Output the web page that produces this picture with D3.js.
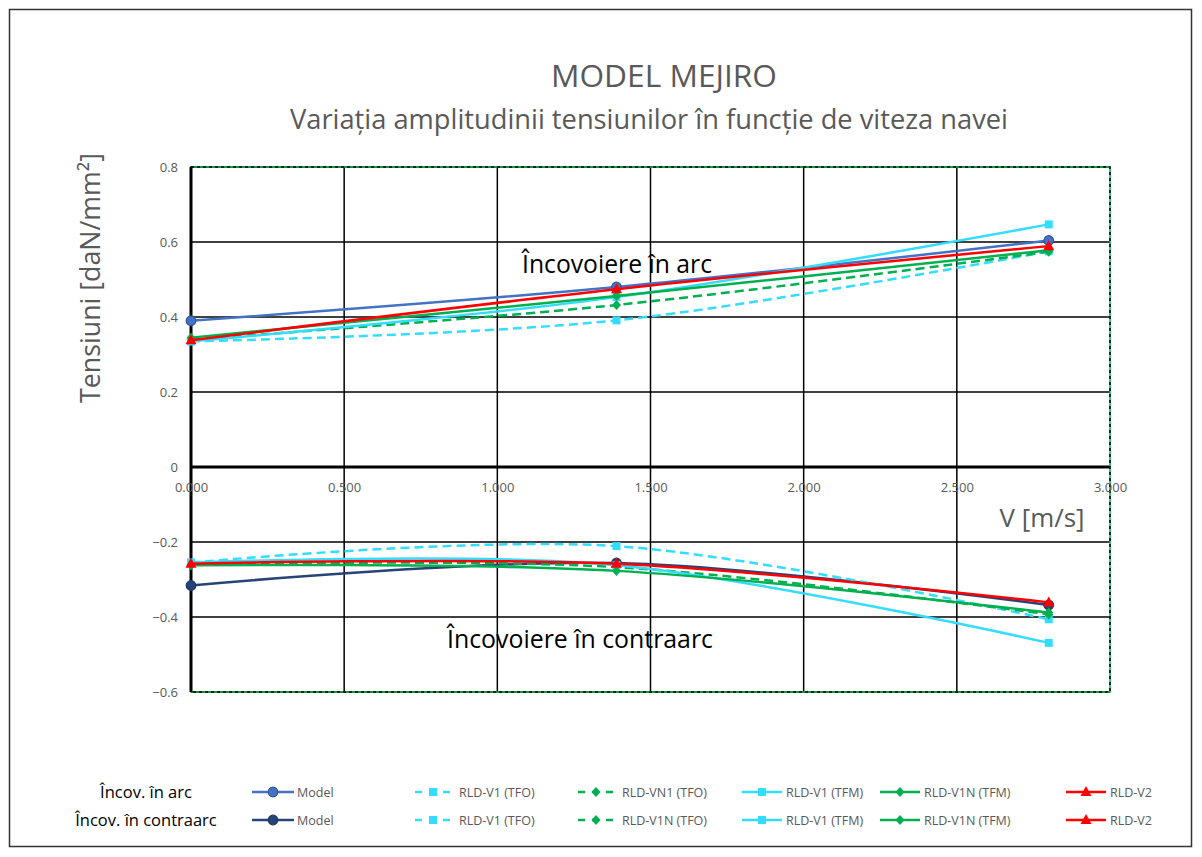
<!DOCTYPE html>
<html>
<head>
<meta charset="utf-8">
<script src="https://cdn.jsdelivr.net/npm/d3@7"></script>
<style>
  html, body { margin: 0; padding: 0; background: #fff; }
  svg { display: block; }
  text { font-family: "Open Sans", "Noto Sans", sans-serif; }
</style>
</head>
<body>
<svg id="chart" width="1202" height="857"></svg>
<script>
// Ship speed [m/s]
const speeds = [0, 1.389, 2.8];

// Stress amplitude, hogging ("în arc")
const arcModel  = [0.390, 0.480, 0.604];
const arcV1Tfo  = [0.335, 0.391, 0.575];
const arcVn1Tfo = [0.340, 0.432, 0.574];
const arcV1Tfm  = [0.335, 0.453, 0.647];
const arcV1nTfm = [0.345, 0.456, 0.578];
const arcV2     = [0.338, 0.474, 0.589];

// Stress amplitude, sagging ("în contraarc")
const conModel  = [-0.316, -0.256, -0.368];
const conV1Tfo  = [-0.255, -0.211, -0.406];
const conVn1Tfo = [-0.260, -0.267, -0.393];
const conV1Tfm  = [-0.255, -0.262, -0.469];
const conV1nTfm = [-0.262, -0.277, -0.388];
const conV2     = [-0.258, -0.258, -0.361];

const xTicks = [0, 0.5, 1, 1.5, 2, 2.5, 3];
const yTicks = [0.8, 0.6, 0.4, 0.2, 0, -0.2, -0.4, -0.6];

const arcNames = ["Model", "RLD-V1 (TFO)", "RLD-VN1 (TFO)", "RLD-V1 (TFM)", "RLD-V1N (TFM)", "RLD-V2"];
const conNames = ["Model", "RLD-V1 (TFO)", "RLD-V1N (TFO)", "RLD-V1 (TFM)", "RLD-V1N (TFM)", "RLD-V2"];

const CYAN = "#33DDFF", GREEN = "#00B050", RED = "#FF0000";
const styles = [
  { dash: null,  marker: "circle" },
  { dash: "9,5", marker: "square",   color: CYAN },
  { dash: "9,5", marker: "diamond",  color: GREEN },
  { dash: null,  marker: "square",   color: CYAN },
  { dash: null,  marker: "diamond",  color: GREEN },
  { dash: null,  marker: "triangle", color: RED }
];

const arcSeries = [arcModel, arcV1Tfo, arcVn1Tfo, arcV1Tfm, arcV1nTfm, arcV2];
const conSeries = [conModel, conV1Tfo, conVn1Tfo, conV1Tfm, conV1nTfm, conV2];

const svg = d3.select("#chart");
const grey = "#595959";

// outer frame
svg.append("rect").attr("x", 9.5).attr("y", 9.5).attr("width", 1182).attr("height", 837)
  .attr("fill", "#fff").attr("stroke", "#333").attr("stroke-width", 1.5);

const x = d3.scaleLinear().domain([0, 3]).range([191, 1110]);
const y = d3.scaleLinear().domain([-0.6, 0.8]).range([692, 167]);

// fit a text element to a given width by adjusting its font size
function fit(sel, width) {
  const node = sel.node();
  const fs = parseFloat(sel.attr("font-size"));
  const w = node.getComputedTextLength();
  sel.attr("font-size", (fs * width / w).toFixed(2));
  return sel;
}

// titles
fit(svg.append("text").attr("x", 664).attr("y", 87).attr("text-anchor", "middle")
  .attr("font-size", 26).attr("fill", grey).text("MODEL MEJIRO"), 226);
fit(svg.append("text").attr("x", 649).attr("y", 129).attr("text-anchor", "middle")
  .attr("font-size", 26).attr("fill", grey)
  .text("Variația amplitudinii tensiunilor în funcție de viteza navei"), 718);

// grid
const g = svg.append("g");
g.selectAll(".hg").data(yTicks).join("line")
  .attr("x1", x(0)).attr("x2", x(3))
  .attr("y1", d => y(d)).attr("y2", d => y(d))
  .attr("stroke", "#000").attr("stroke-width", d => d === 0 ? 3 : 1.5);
g.selectAll(".vg").data(xTicks.filter(d => d > 0 && d < 3)).join("line")
  .attr("x1", d => x(d)).attr("x2", d => x(d))
  .attr("y1", y(0.8)).attr("y2", y(-0.6))
  .attr("stroke", "#000").attr("stroke-width", 1.5);
// plot-area border: green line with black dashes
g.append("rect").attr("x", x(0)).attr("y", y(0.8)).attr("width", x(3) - x(0)).attr("height", y(-0.6) - y(0.8))
  .attr("fill", "none").attr("stroke", GREEN).attr("stroke-width", 1.5);
g.append("rect").attr("x", x(0)).attr("y", y(0.8)).attr("width", x(3) - x(0)).attr("height", y(-0.6) - y(0.8))
  .attr("fill", "none").attr("stroke", "#000").attr("stroke-width", 1.5).attr("stroke-dasharray", "3,3");
// left axis line
g.append("line").attr("x1", x(0)).attr("x2", x(0)).attr("y1", y(0.8)).attr("y2", y(-0.6))
  .attr("stroke", "#000").attr("stroke-width", 3);

// y axis labels
const yAxis = d3.axisLeft(y).tickValues(yTicks).tickSize(0).tickPadding(13)
  .tickFormat(d => d === 0 ? "0" : d3.format(".1f")(d));
const ya = svg.append("g").attr("transform", `translate(${x(0)},0)`).call(yAxis);
ya.select(".domain").remove();
ya.selectAll("text").attr("fill", grey).attr("font-size", 13).attr("font-family", "Open Sans");

// x axis labels, sitting under the zero line
const xAxis = d3.axisBottom(x).tickValues(xTicks).tickSize(0).tickPadding(16)
  .tickFormat(d3.format(".3f"));
const xa = svg.append("g").attr("transform", `translate(0,${y(0)})`).call(xAxis);
xa.select(".domain").remove();
xa.selectAll("text").attr("fill", grey).attr("font-size", 13).attr("font-family", "Open Sans");

// axis titles
fit(svg.append("text").attr("transform", `translate(100,${278}) rotate(-90)`).attr("text-anchor", "middle")
  .attr("font-size", 24).attr("fill", grey).text("Tensiuni [daN/mm²]"), 250);
fit(svg.append("text").attr("x", 1042).attr("y", 527).attr("text-anchor", "middle")
  .attr("font-size", 24).attr("fill", grey).text("V [m/s]"), 85);

// annotations
fit(svg.append("text").attr("x", 617).attr("y", 273).attr("text-anchor", "middle")
  .attr("font-size", 24).attr("fill", "#000").text("Încovoiere în arc"), 190);
fit(svg.append("text").attr("x", 580).attr("y", 648).attr("text-anchor", "middle")
  .attr("font-size", 24).attr("fill", "#000").text("Încovoiere în contraarc"), 266);

// marker shapes
function drawMarker(sel, type, cx, cy, fill, stroke) {
  if (type === "circle") {
    sel.append("circle").attr("cx", cx).attr("cy", cy).attr("r", 4.8)
      .attr("fill", fill).attr("stroke", stroke).attr("stroke-width", 1.2);
  } else if (type === "square") {
    sel.append("rect").attr("x", cx - 4).attr("y", cy - 4).attr("width", 8).attr("height", 8).attr("fill", fill);
  } else if (type === "diamond") {
    sel.append("path").attr("d", `M${cx},${cy - 5}L${cx + 4.5},${cy}L${cx},${cy + 5}L${cx - 4.5},${cy}Z`).attr("fill", fill);
  } else if (type === "triangle") {
    sel.append("path").attr("d", `M${cx},${cy - 6}L${cx + 5.5},${cy + 4}L${cx - 5.5},${cy + 4}Z`).attr("fill", fill);
  }
}

const line = d3.line().x(d => x(d[0])).y(d => y(d[1])).curve(d3.curveCardinal.tension(0));

function drawGroup(series, modelColor, modelStroke) {
  const grp = svg.append("g");
  series.forEach((vals, i) => {
    const st = styles[i];
    const col = i === 0 ? modelColor : st.color;
    const pts = speeds.map((s, k) => [s, vals[k]]);
    grp.append("path").datum(pts).attr("d", line).attr("fill", "none")
      .attr("stroke", col).attr("stroke-width", 2.5)
      .attr("stroke-dasharray", st.dash);
    pts.forEach(p => drawMarker(grp, st.marker, x(p[0]), y(p[1]), col, i === 0 ? modelStroke : null));
  });
}
drawGroup(arcSeries, "#4472C4", "#2F5597");
drawGroup(conSeries, "#264478", "#203864");

// legend
const legendX = [
  { l0: 252, l1: 294, m: 273, t: 297 },
  { l0: 415, l1: 450, m: 433, t: 459 },
  { l0: 578, l1: 613, m: 596, t: 622 },
  { l0: 742, l1: 782, m: 762, t: 786 },
  { l0: 880, l1: 920, m: 900, t: 924 },
  { l0: 1066, l1: 1106, m: 1086, t: 1110 }
];
const legRows = [
  { y: 792, label: "Încov. în arc", names: arcNames, model: "#4472C4", mstroke: "#2F5597" },
  { y: 820, label: "Încov. în contraarc", names: conNames, model: "#264478", mstroke: "#203864" }
];
const lg = svg.append("g");
legRows.forEach(r => {
  lg.append("text").attr("x", 146).attr("y", r.y + 6).attr("text-anchor", "middle")
    .attr("font-size", 16.5).attr("fill", "#000").text(r.label);
  r.names.forEach((nm, i) => {
    const st = styles[i];
    const col = i === 0 ? r.model : st.color;
    const p = legendX[i];
    lg.append("line").attr("x1", p.l0).attr("x2", p.l1).attr("y1", r.y).attr("y2", r.y)
      .attr("stroke", col).attr("stroke-width", 2.5).attr("stroke-dasharray", st.dash ? "7,7" : null);
    drawMarker(lg, st.marker, p.m, r.y, col, i === 0 ? r.mstroke : null);
    lg.append("text").attr("x", p.t).attr("y", r.y + 5).attr("font-size", 12.5)
      .attr("fill", grey).text(nm);
  });
});
</script>
</body>
</html>
